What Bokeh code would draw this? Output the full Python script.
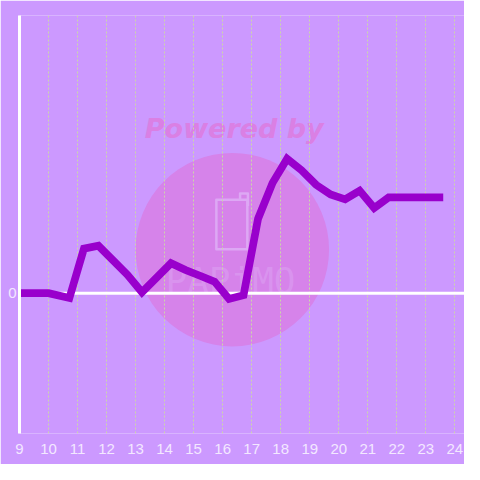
from bokeh.plotting import figure
from bokeh.models import Range1d, FixedTicker, Span
from bokeh.core.properties import value
from bokeh.embed import file_html
from bokeh.resources import INLINE

# ---- data ----
hours = [9.0, 10.0, 10.72, 11.22, 11.72, 12.22, 12.72, 13.22, 13.72, 14.22, 14.72,
         15.22, 15.72, 16.22, 16.72, 17.22, 17.72, 18.22, 18.72, 19.22, 19.72,
         20.22, 20.72, 21.22, 21.72, 22.22, 22.72, 23.22, 23.6]
values = [0, 0, -5, 46, 49, 34, 19, 1, 16, 31, 24,
          18, 12, -6, -2, 77, 114, 139, 127, 112, 102,
          97, 106, 88, 99, 99, 99, 99, 99]
x_ticks = list(range(9, 25))
y_ticks = [0]

# watermark (decoration)
wm_x = [16.333]
wm_y = [45]
wm_title = ["Powered by"]
wm_logo = ["PAPiMO"]

BG = "#CC99FF"
LINE = "#9900CC"
GRID = "#CCD6A8"
LABEL = "#F3E8FF"
WM_FILL = "#D683EA"
WM_TEXT = "#DA80E4"
WM_LOGO = "#DDA8F4"

p = figure(width=464, height=464, output_backend="svg", toolbar_location=None,
           x_range=Range1d(9, 24.333), y_range=Range1d(-145, 287),
           min_border_left=19, min_border_right=0, min_border_top=15,
           min_border_bottom=31)

p.background_fill_color = BG
p.border_fill_color = BG
p.outline_line_color = None

# watermark
p.circle(x=wm_x, y=wm_y, radius=3.333, radius_dimension="x",
         fill_color=WM_FILL, line_color=None, level="image")
p.text(x=[16.4], y=[170], text=wm_title, text_font=value("DejaVu Sans"),
       text_font_style="bold italic", text_font_size="27px",
       text_align="center", text_baseline="middle", text_color=WM_TEXT,
       level="image")
p.rect(x=[16.317], y=[71], width=1.067, height=51, fill_color=None,
       line_color=WM_LOGO, line_width=2.5, line_join="round", level="image")
p.multi_line(xs=[[16.6, 16.6, 16.87, 16.87]], ys=[[96.5, 103, 103, 90]],
             line_color=WM_LOGO, line_width=2.5, line_join="round", level="image")
p.text(x=[16.27], y=[13], text=wm_logo, text_font=value("DejaVu Sans Mono"),
       text_font_size="36px", text_align="center", text_baseline="middle",
       text_color=WM_LOGO, text_alpha=0.45, level="image")

# zero line
p.add_layout(Span(location=0, dimension="width", line_color="white",
                  line_width=3, level="underlay"))

# data line
p.line(hours, values, line_color=LINE, line_width=7.7, line_join="miter",
       line_cap="butt")

# axes
p.xaxis.ticker = FixedTicker(ticks=x_ticks)
p.xaxis.axis_line_color = None
p.xaxis.major_tick_line_color = None
p.xaxis.minor_tick_line_color = None
p.xaxis.major_label_standoff = 4
p.xaxis.major_label_text_color = LABEL
p.xaxis.major_label_text_font = "Liberation Sans"
p.xaxis.major_label_text_font_size = "15px"

p.yaxis.ticker = FixedTicker(ticks=y_ticks)
p.yaxis.axis_line_color = "white"
p.yaxis.axis_line_width = 3
p.yaxis.major_tick_line_color = None
p.yaxis.minor_tick_line_color = None
p.yaxis.major_tick_out = 0
p.yaxis.major_label_standoff = 3
p.yaxis.major_label_text_color = LABEL
p.yaxis.major_label_text_font = "Liberation Sans"
p.yaxis.major_label_text_font_size = "15px"

p.xgrid.ticker = FixedTicker(ticks=x_ticks)
p.xgrid.grid_line_color = GRID
p.xgrid.grid_line_dash = "2 2"
p.xgrid.grid_line_width = 1
p.ygrid.grid_line_color = None

open("out.html", "w").write(file_html(p, INLINE))
